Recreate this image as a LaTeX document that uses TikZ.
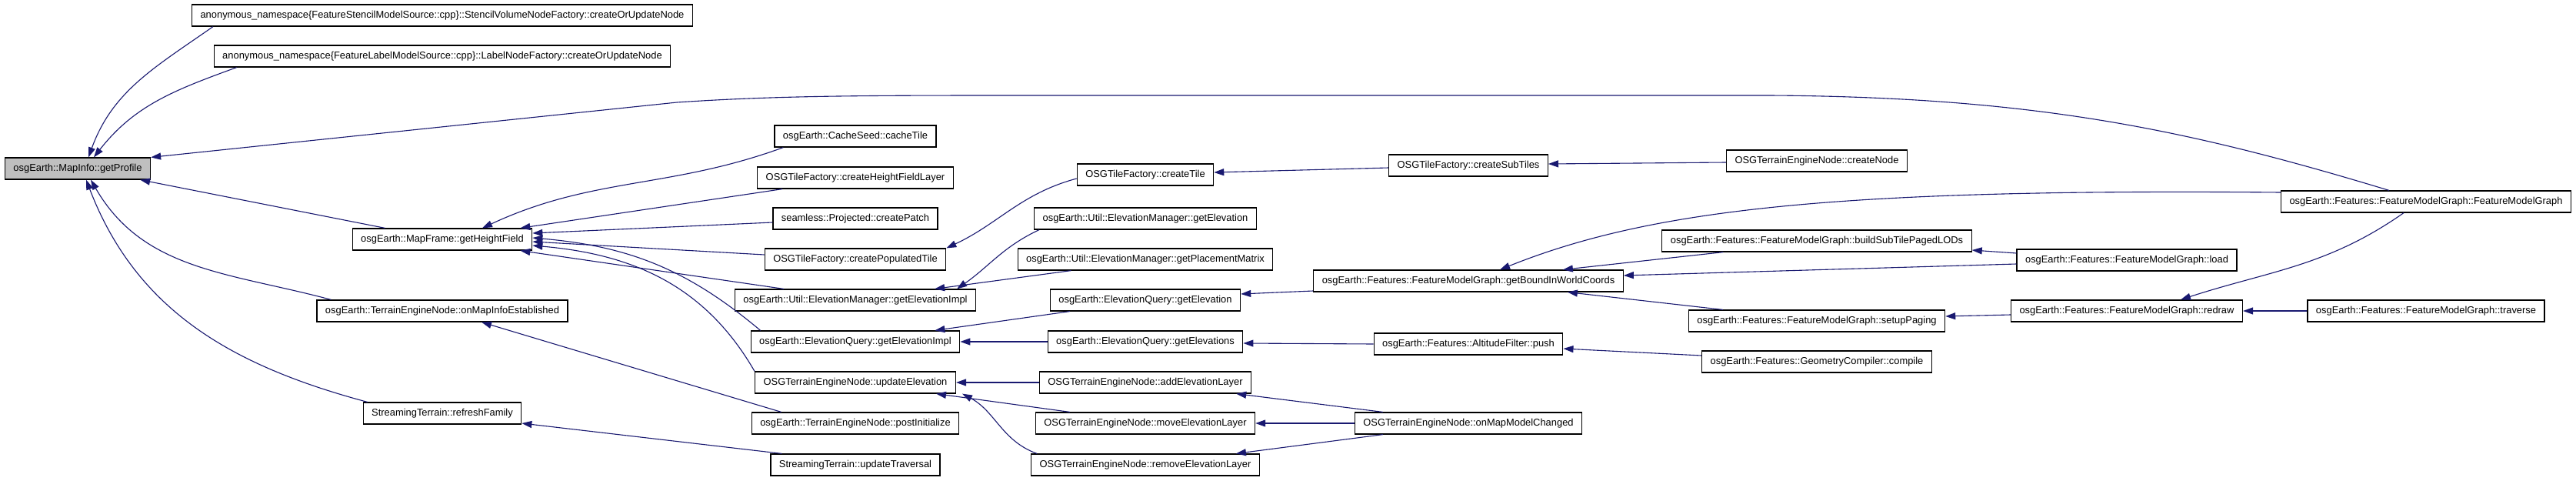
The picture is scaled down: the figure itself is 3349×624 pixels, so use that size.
\documentclass[tikz,border=0pt]{standalone}
\usepackage{xcolor}
\usepackage{fontspec}
\setmainfont{Liberation Sans}
\usetikzlibrary{arrows.meta}
\definecolor{edgeblue}{HTML}{191970}
\definecolor{rootgray}{HTML}{BFBFBF}

\begin{document}
\begin{tikzpicture}[
    x=1pt, y=1pt,
    func/.style={
        rectangle, draw=black, fill=#1, line width=1.2pt,
        minimum height=28pt, inner xsep=11pt, inner ysep=0pt,
        text height=9.6pt, text depth=2.8pt,
        font=\fontsize{12.9pt}{15pt}\selectfont
    },
    func/.default=white,
    callarrow/.style={{Triangle[length=13pt, width=9pt]}-, line width=1.1pt, edgeblue}
]
    \useasboundingbox (0,0) rectangle (3349,-624);

    \node[func=rootgray] (getProfile) at (101,-219) {osgEarth::MapInfo::getProfile};

    \node[func] (stencilNode)    at (575,-20)  {anonymous\_namespace\{FeatureStencilModelSource::cpp\}::StencilVolumeNodeFactory::createOrUpdateNode};
    \node[func] (labelNode)      at (575,-73)  {anonymous\_namespace\{FeatureLabelModelSource::cpp\}::LabelNodeFactory::createOrUpdateNode};
    \node[func] (getHeightField) at (575,-311) {osgEarth::MapFrame::getHeightField};
    \node[func] (onMapInfo)      at (575,-404) {osgEarth::TerrainEngineNode::onMapInfoEstablished};
    \node[func] (refreshFamily)  at (575,-537) {StreamingTerrain::refreshFamily};

    \node[func] (cacheTile)     at (1112,-177) {osgEarth::CacheSeed::cacheTile};
    \node[func] (hfLayer)       at (1112,-231) {OSGTileFactory::createHeightFieldLayer};
    \node[func] (createPatch)   at (1112,-284) {seamless::Projected::createPatch};
    \node[func] (populatedTile) at (1112,-337) {OSGTileFactory::createPopulatedTile};
    \node[func] (emElevImpl)    at (1112,-390) {osgEarth::Util::ElevationManager::getElevationImpl};
    \node[func] (eqElevImpl)    at (1112,-444) {osgEarth::ElevationQuery::getElevationImpl};
    \node[func] (updateElev)    at (1112,-497) {OSGTerrainEngineNode::updateElevation};
    \node[func] (postInit)      at (1112,-550) {osgEarth::TerrainEngineNode::postInitialize};
    \node[func] (updateTrav)    at (1112,-604) {StreamingTerrain::updateTraversal};

    \node[func] (createTile)  at (1489,-227) {OSGTileFactory::createTile};
    \node[func] (emElev)      at (1489,-284) {osgEarth::Util::ElevationManager::getElevation};
    \node[func] (placement)   at (1489,-337) {osgEarth::Util::ElevationManager::getPlacementMatrix};
    \node[func] (eqElev)      at (1489,-390) {osgEarth::ElevationQuery::getElevation};
    \node[func] (eqElevs)     at (1489,-444) {osgEarth::ElevationQuery::getElevations};
    \node[func] (addLayer)    at (1489,-497) {OSGTerrainEngineNode::addElevationLayer};
    \node[func] (moveLayer)   at (1489,-550) {OSGTerrainEngineNode::moveElevationLayer};
    \node[func] (removeLayer) at (1489,-604) {OSGTerrainEngineNode::removeElevationLayer};

    \node[func] (subTiles) at (1909,-215) {OSGTileFactory::createSubTiles};
    \node[func] (boundWC)  at (1909,-365) {osgEarth::Features::FeatureModelGraph::getBoundInWorldCoords};
    \node[func] (altPush)  at (1909,-447) {osgEarth::Features::AltitudeFilter::push};
    \node[func] (mapModel) at (1909,-550) {OSGTerrainEngineNode::onMapModelChanged};

    \node[func] (createNode)  at (2362,-209) {OSGTerrainEngineNode::createNode};
    \node[func] (buildLODs)   at (2362,-313) {osgEarth::Features::FeatureModelGraph::buildSubTilePagedLODs};
    \node[func] (setupPaging) at (2362,-417) {osgEarth::Features::FeatureModelGraph::setupPaging};
    \node[func] (geomCompile) at (2362,-470) {osgEarth::Features::GeometryCompiler::compile};

    \node[func] (loadFMG) at (2765,-338) {osgEarth::Features::FeatureModelGraph::load};
    \node[func] (redraw)  at (2765,-404) {osgEarth::Features::FeatureModelGraph::redraw};

    \node[func] (fmgCtor)  at (3154,-262) {osgEarth::Features::FeatureModelGraph::FeatureModelGraph};
    \node[func] (traverse) at (3154,-404) {osgEarth::Features::FeatureModelGraph::traverse};

    % callers of getProfile
    \draw[callarrow] ([xshift=14]getProfile.north) to[out=70, in=215] ([xshift=28]stencilNode.south west);
    \draw[callarrow] ([xshift=21]getProfile.north) to[out=52, in=200] ([xshift=30]labelNode.south west);
    \draw[callarrow] (getProfile.north east) -- (880,-133) .. controls (1000,-125) and (1100,-124) .. (1300,-124)
        -- (2300,-124) .. controls (2650,-126) and (2850,-170) .. ([xshift=-48]fmgCtor.north);
    \draw[callarrow] ([xshift=-14]getProfile.south east) -- ([xshift=43]getHeightField.north west);
    \draw[callarrow] ([xshift=17]getProfile.south) to[out=-60, in=165] ([xshift=19]onMapInfo.north west);
    \draw[callarrow] ([xshift=11]getProfile.south) to[out=-69, in=165] ([xshift=6]refreshFamily.north west);

    % callers of getHeightField
    \draw[callarrow] ([xshift=52]getHeightField.north) to[out=25, in=200] ([xshift=12]cacheTile.south west);
    \draw[callarrow] ([xshift=-16]getHeightField.north east) -- ([xshift=33]hfLayer.south west);
    \draw[callarrow] ([yshift=8]getHeightField.east) -- ([yshift=-5]createPatch.west);
    \draw[callarrow] ([yshift=2]getHeightField.east) to[out=-5, in=140] ([xshift=13]eqElevImpl.north west);
    \draw[callarrow] ([yshift=-3]getHeightField.east) -- ([yshift=6]populatedTile.west);
    \draw[callarrow] ([yshift=-8]getHeightField.east) to[out=-5, in=120] (updateElev.north west);
    \draw[callarrow] ([xshift=-16]getHeightField.south east) -- ([xshift=64]emElevImpl.north west);

    \draw[callarrow] ([xshift=51]onMapInfo.south) -- ([xshift=39]postInit.north west);
    \draw[callarrow] ([yshift=-13]refreshFamily.east) -- ([xshift=15]updateTrav.north west);

    \draw[callarrow] (populatedTile.north east) to[out=25, in=195] ([yshift=-5]createTile.west);
    \draw[callarrow] ([xshift=-25]emElevImpl.north east) to[out=35, in=205] ([xshift=7]emElev.south west);
    \draw[callarrow] ([xshift=-54]emElevImpl.north east) -- ([xshift=70]placement.south west);
    \draw[callarrow] ([xshift=-33]eqElevImpl.north east) -- ([xshift=26]eqElev.south west);
    \draw[callarrow] (eqElevImpl.east) -- (eqElevs.west);
    \draw[callarrow] (updateElev.east) -- (addLayer.west);
    \draw[callarrow] ([xshift=-26]updateElev.south east) -- ([xshift=45]moveLayer.north west);
    \draw[callarrow] ([xshift=8]updateElev.south east) to[out=-28, in=160] ([xshift=8]removeLayer.north west);

    \draw[callarrow] ([yshift=3]createTile.east) -- ([yshift=-3]subTiles.west);
    \draw[callarrow] ([yshift=2]subTiles.east) -- ([yshift=-2]createNode.west);
    \draw[callarrow] ([yshift=8]eqElev.east) -- ([yshift=-13]boundWC.west);
    \draw[callarrow] ([yshift=-2]eqElevs.east) -- (altPush.west);
    \draw[callarrow] ([yshift=-6]altPush.east) -- ([yshift=8]geomCompile.west);
    \draw[callarrow] ([xshift=-20]addLayer.south east) -- ([xshift=37]mapModel.north west);
    \draw[callarrow] (moveLayer.east) -- (mapModel.west);
    \draw[callarrow] ([xshift=-31]removeLayer.north east) -- ([xshift=37]mapModel.south west);

    % callers of getBoundInWorldCoords
    \draw[callarrow] ([xshift=41]boundWC.north) .. controls (2150,-270) and (2400,-245) .. ([yshift=12]fmgCtor.west);
    \draw[callarrow] ([xshift=-79]boundWC.north east) -- ([xshift=80]buildLODs.south west);
    \draw[callarrow] ([yshift=7]boundWC.east) -- ([yshift=-5]loadFMG.west);
    \draw[callarrow] ([xshift=-73]boundWC.south east) -- ([xshift=45]setupPaging.north west);

    \draw[callarrow] ([yshift=-12]buildLODs.east) -- ([yshift=9]loadFMG.west);
    \draw[callarrow] ([yshift=6]setupPaging.east) -- ([yshift=-5]redraw.west);
    \draw[callarrow] ([xshift=70]redraw.north) to[out=18, in=-145] ([xshift=-29]fmgCtor.south);
    \draw[callarrow] (redraw.east) -- (traverse.west);
\end{tikzpicture}
\end{document}
